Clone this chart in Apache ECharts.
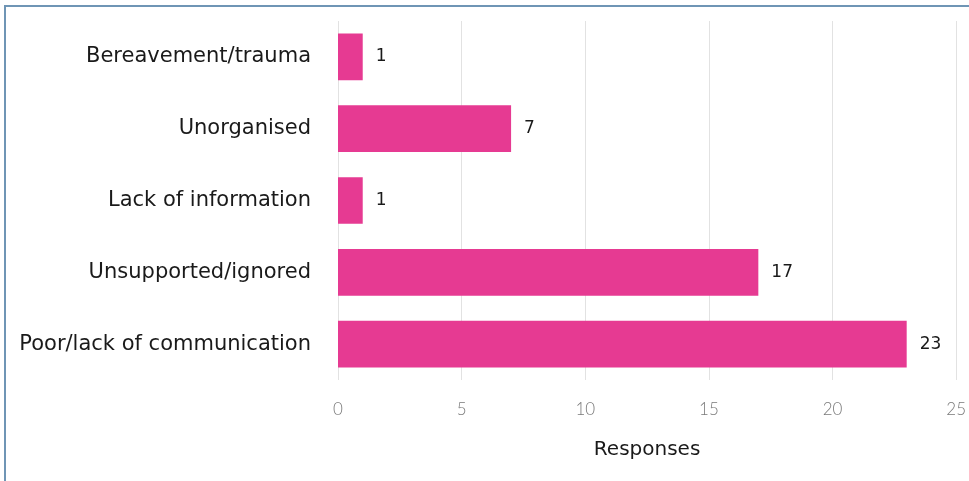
<!DOCTYPE html>
<html>
<head>
<meta charset="utf-8">
<script src="https://cdn.jsdelivr.net/npm/echarts@6/dist/echarts.min.js"></script>
<style>
  html, body { margin: 0; padding: 0; background: #ffffff; }
  #frame {
    position: absolute; left: 4px; top: 5px; width: 980px; height: 490px;
    border: 2px solid #6f95b5; box-sizing: border-box;
  }
  #chart { position: absolute; left: 0; top: 0; width: 969px; height: 481px; }
</style>
</head>
<body>
<div id="frame"></div>
<div id="chart"></div>
<script>
// Reasons given, listed top to bottom
const categories = [
  'Bereavement/trauma',
  'Unorganised',
  'Lack of information',
  'Unsupported/ignored',
  'Poor/lack of communication'
];
const responses = [1, 7, 1, 17, 23];
const xTicks = [0, 5, 10, 15, 20, 25];

const font = '"DejaVu Sans", "Noto Sans", sans-serif';
const tickFont = 'Lato, "Noto Sans", sans-serif';
const chart = echarts.init(document.getElementById('chart'), null, { renderer: 'canvas' });

chart.setOption({
  animation: false,
  backgroundColor: 'transparent',
  grid: { left: 338, top: 21, width: 621, height: 359, containLabel: false },
  xAxis: {
    type: 'value',
    min: xTicks[0],
    max: xTicks[xTicks.length - 1],
    interval: 5,
    name: 'Responses',
    nameLocation: 'middle',
    nameGap: 60,
    nameTextStyle: { color: '#1a1a1a', fontSize: 20, fontFamily: font },
    axisLine: { show: false },
    axisTick: { show: false },
    axisLabel: { color: '#7a7a7a', fontSize: 17, fontFamily: tickFont, fontWeight: 300, margin: 21 },
    splitLine: { show: true, lineStyle: { color: '#e2e2e2', width: 1 } }
  },
  yAxis: {
    type: 'category',
    data: categories,
    inverse: true,
    axisLine: { show: false },
    axisTick: { show: false },
    axisLabel: {
      color: '#1a1a1a', fontSize: 21, fontFamily: font, margin: 27,
      padding: [0, 0, 7, 0]
    },
    splitLine: { show: false }
  },
  series: [{
    type: 'bar',
    data: responses,
    barWidth: '65%',
    itemStyle: { color: '#e63a92' },
    label: {
      show: true,
      position: 'right',
      distance: 13,
      color: '#1a1a1a',
      fontSize: 17,
      fontFamily: font
    }
  }]
});
</script>
</body>
</html>
